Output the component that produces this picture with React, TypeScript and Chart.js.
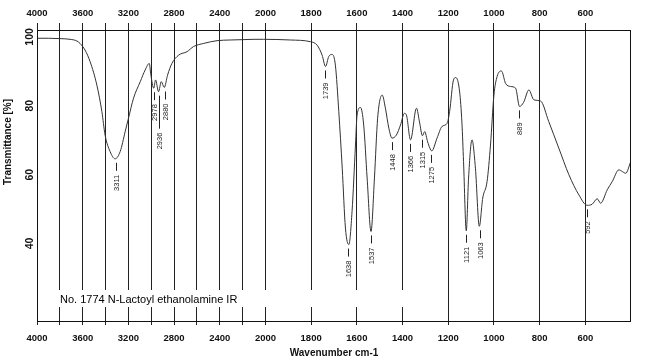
import React, { useEffect, useRef } from "react";
import { Chart, registerables } from "chart.js";

Chart.register(...registerables);

// IR spectrum: wavenumber (cm-1) and transmittance (%)
const WAVENUMBERS = [
  4000, 3900, 3800, 3711, 3650, 3623, 3580, 3535, 3476, 3432, 3404, 3360, 3316, 3272, 3228, 3199, 3155, 3096, 3053, 3017,
  3003, 2978, 2962, 2936, 2912, 2886, 2857, 2819, 2760, 2687, 2629, 2541, 2424, 2307, 2200, 2100, 2018, 1891, 1803, 1774,
  1752, 1737, 1723, 1708, 1694, 1679, 1664, 1650, 1635, 1621, 1606, 1599, 1584, 1570, 1555, 1538, 1523, 1509, 1489, 1475,
  1460, 1446, 1427, 1409, 1392, 1383, 1365, 1339, 1325, 1313, 1303, 1290, 1272, 1249, 1227, 1205, 1194, 1177, 1167, 1150,
  1140, 1133, 1121, 1111, 1096, 1081, 1064, 1049, 1030, 1015, 1000, 986, 967, 949, 927, 905, 888, 870, 847, 825,
  796, 760, 716, 672, 628, 592, 570, 548, 533, 504, 482, 453, 438, 423, 401,
];
const TRANSMITTANCE = [
  99.6, 99.6, 99.5, 99.3, 98.8, 98.1, 96.2, 92.8, 86.0, 78.3, 71.5, 66.7, 64.6, 66.7, 72.5, 76.4, 82.2, 87.0, 90.4, 92.3,
  88.9, 85.1, 87.5, 84.1, 87.0, 85.3, 88.9, 92.3, 94.7, 95.7, 97.2, 98.1, 98.9, 99.1, 99.2, 99.3, 99.3, 99.1, 98.6, 97.6,
  94.7, 91.4, 94.3, 94.9, 91.8, 78.3, 61.9, 44.5, 39.7, 49.3, 68.6, 77.3, 79.5, 74.4, 59.0, 43.5, 59.0, 76.4, 83.1, 79.3,
  73.5, 70.6, 71.5, 74.4, 77.8, 77.3, 70.1, 79.3, 75.0, 71.3, 72.5, 69.5, 66.9, 70.6, 74.0, 74.9, 78.3, 87.5, 88.2, 84.0,
  75.0, 63.8, 43.7, 59.0, 70.1, 61.9, 45.0, 53.2, 58.0, 68.6, 83.1, 88.5, 90.1, 86.5, 85.6, 85.1, 79.8, 81.0, 84.6, 81.7,
  81.4, 75.4, 67.7, 60.0, 54.1, 51.1, 51.4, 53.0, 51.7, 55.6, 58.0, 61.4, 60.9, 60.4, 63.8,
];

// Peak annotations
const PEAK_WAVENUMBERS = [3311, 2978, 2936, 2880, 1739, 1638, 1537, 1448, 1366, 1315, 1275, 1121, 1063, 889, 592];
const PEAK_VALUES = [64.6, 85.1, 84.1, 85.3, 91.4, 39.7, 43.5, 70.6, 70.1, 71.3, 66.9, 43.7, 45.0, 79.8, 51.1];
const LONG_DASH_PEAKS = [2936];

// Axis ticks
const GRID_WAVENUMBERS = [4000, 3800, 3600, 3400, 3200, 3000, 2800, 2600, 2400, 2200, 2000, 1800, 1600, 1400, 1200, 1000, 800, 600];
const LABEL_WAVENUMBERS = [4000, 3600, 3200, 2800, 2400, 2000, 1800, 1600, 1400, 1200, 1000, 800, 600];
const Y_TICKS = [100, 80, 60, 40];

const TITLE_TEXT = "No. 1774 N-Lactoyl ethanolamine IR";
const X_TITLE = "Wavenumber cm-1";
const Y_TITLE = "Transmittance [%]";

// Split x scale: above 2000 cm-1 compressed by a factor 2
const T = (w: number) => (w > 2000 ? 2000 + (w - 2000) / 2 : w);

const FONT = "'Liberation Sans', Arial, sans-serif";

const overlay = {
  id: "irOverlay",
  beforeDatasetsDraw(chart: any) {
    const ctx = chart.ctx;
    const { chartArea } = chart;
    const xs = chart.scales.x;
    ctx.save();
    ctx.fillStyle = "#ffffff";
    const x0 = chartArea.left + 8;
    const x1 = xs.getPixelForValue(T(1370));
    ctx.fillRect(x0, chartArea.bottom - 31, x1 - x0, 17);
    ctx.restore();
  },
  afterDraw(chart: any) {
    const ctx = chart.ctx;
    const { chartArea } = chart;
    const xs = chart.scales.x;
    const ys = chart.scales.y;
    ctx.save();

    // frame
    ctx.strokeStyle = "#111";
    ctx.lineWidth = 1;
    ctx.strokeRect(chartArea.left + 0.5, chartArea.top + 0.5, chartArea.right - chartArea.left - 1, chartArea.bottom - chartArea.top);

    // x tick labels top & bottom
    ctx.fillStyle = "#111";
    ctx.font = `bold 9.5px ${FONT}`;
    ctx.textAlign = "center";
    ctx.textBaseline = "middle";
    LABEL_WAVENUMBERS.forEach((w) => {
      const px = xs.getPixelForValue(T(w));
      ctx.fillText(String(w), px, 13);
      ctx.fillText(String(w), px, chartArea.bottom + 17);
    });

    // x title
    ctx.font = `bold 10px ${FONT}`;
    ctx.fillText(X_TITLE, (chartArea.left + chartArea.right) / 2, chartArea.bottom + 32);

    // y tick labels (rotated)
    ctx.font = `bold 10.5px ${FONT}`;
    Y_TICKS.forEach((v) => {
      const py = ys.getPixelForValue(v);
      ctx.save();
      ctx.translate(chartArea.left - 7, py);
      ctx.rotate(-Math.PI / 2);
      ctx.textAlign = "center";
      ctx.textBaseline = "middle";
      ctx.fillText(String(v), 0, 0);
      ctx.restore();
    });

    // y title
    ctx.save();
    ctx.font = `bold 10px ${FONT}`;
    ctx.translate(8, 142);
    ctx.rotate(-Math.PI / 2);
    ctx.textAlign = "center";
    ctx.textBaseline = "middle";
    ctx.fillText(Y_TITLE, 0, 0);
    ctx.restore();

    // sample title
    ctx.font = `11px ${FONT}`;
    ctx.textAlign = "left";
    ctx.textBaseline = "middle";
    ctx.fillStyle = "#000";
    ctx.fillText(TITLE_TEXT, chartArea.left + 23, chartArea.bottom - 21);

    // peak labels
    ctx.strokeStyle = "#222";
    ctx.fillStyle = "#222";
    ctx.font = `7.5px ${FONT}`;
    PEAK_WAVENUMBERS.forEach((w, i) => {
      const px = Math.round(xs.getPixelForValue(T(w))) + 0.5;
      const py = ys.getPixelForValue(PEAK_VALUES[i]);
      const dashLen = LONG_DASH_PEAKS.includes(w) ? 33 : 8;
      ctx.beginPath();
      ctx.moveTo(px, py + 4);
      ctx.lineTo(px, py + 4 + dashLen);
      ctx.stroke();
      ctx.save();
      ctx.translate(px, py + 4 + dashLen + 4);
      ctx.rotate(-Math.PI / 2);
      ctx.textAlign = "right";
      ctx.textBaseline = "middle";
      ctx.fillText(String(w), 0, 0);
      ctx.restore();
    });

    ctx.restore();
  },
};

export default function App() {
  const ref = useRef<HTMLCanvasElement | null>(null);

  useEffect(() => {
    if (!ref.current) return;
    const data = WAVENUMBERS.map((w, i) => ({ x: T(w), y: TRANSMITTANCE[i] }));
    const gridTicks = (s: any) => {
      s.ticks = GRID_WAVENUMBERS.map((w) => ({ value: T(w) }));
    };
    const chart = new Chart(ref.current, {
      type: "line",
      data: {
        datasets: [
          {
            data,
            borderColor: "#333",
            borderWidth: 1,
            pointRadius: 0,
            cubicInterpolationMode: "monotone",
            fill: false,
            xAxisID: "x",
            yAxisID: "y",
          },
        ],
      },
      options: {
        animation: false,
        responsive: false,
        devicePixelRatio: 1,
        parsing: false,
        layout: { padding: { left: 37, right: 19, top: 0, bottom: 0 } },
        plugins: { legend: { display: false }, tooltip: { enabled: false }, title: { display: false } },
        scales: {
          x: {
            type: "linear",
            position: "bottom",
            reverse: true,
            min: 400,
            max: 3000,
            afterBuildTicks: gridTicks,
            afterFit: (s: any) => {
              s.height = 40;
            },
            ticks: { display: false },
            grid: { color: "#222", lineWidth: 1, tickLength: 4, drawOnChartArea: true, drawTicks: true },
            border: { display: false },
          },
          x2: {
            type: "linear",
            position: "top",
            reverse: true,
            min: 400,
            max: 3000,
            afterBuildTicks: gridTicks,
            afterFit: (s: any) => {
              s.height = 30;
            },
            ticks: { display: false },
            grid: { color: "#222", lineWidth: 1, tickLength: 7, drawOnChartArea: false, drawTicks: true },
            border: { display: false },
          },
          y: {
            type: "linear",
            display: false,
            min: 17.5,
            max: 102,
          },
        },
      },
      plugins: [overlay],
    } as any);
    return () => chart.destroy();
  }, []);

  return (
    <div style={{ position: "absolute", left: 0, top: 0, width: 650, height: 361, background: "#fff" }}>
      <canvas ref={ref} width={650} height={361} style={{ display: "block" }} />
    </div>
  );
}
